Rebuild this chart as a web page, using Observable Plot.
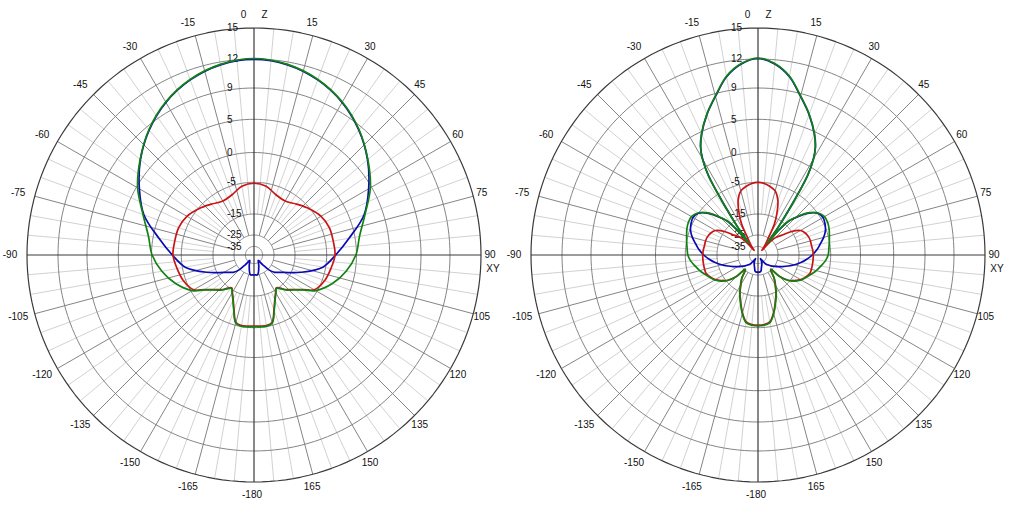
<!DOCTYPE html>
<html><head><meta charset="utf-8">
<script src="https://cdn.jsdelivr.net/npm/d3@7"></script>
<script src="https://cdn.jsdelivr.net/npm/@observablehq/plot@0.6"></script>
<style>
html,body{margin:0;padding:0;background:#fff}
body{width:1024px;height:509px;overflow:hidden;position:relative;font-family:"Liberation Sans",Arial,sans-serif}
#left{position:absolute;left:0;top:0}
#right{position:absolute;left:504px;top:0}
</style></head><body>
<div id="left"></div><div id="right"></div>
<script>
// ---- radial dB rings (non-linear antenna scale) ----
const ringDb = [15, 12, 9, 5, 0, -5, -15, -25, -35];
const ringLabels = ["15", "12", "9", "5", "0", "-5", "-15", "-25", "-35"];
const ringFrac = [1, 0.8634, 0.7357, 0.5978, 0.4515, 0.3203, 0.1806, 0.0881, 0.0379];

// ---- angle tick labels (degrees from Z, clockwise toward XY) ----
const angleLabels = [15, 30, 45, 60, 75, 90, 105, 120, 135, 150, 165,
  -15, -30, -45, -60, -75, -90, -105, -120, -135, -150, -165];

// ---- left pattern (half, symmetric), dB ----
const leftAngles = [0, 10, 20, 30, 40, 50, 60, 70, 80, 90, 100, 110, 120, 125, 130, 135, 138, 142, 146, 150, 155, 160, 165, 170, 175, 180];
const leftBlue  = [11.95, 11.7, 11.0, 9.95, 8.5, 6.6, 4.5, 2.2, -1.0, -3.5, -5.9, -12.0, -17.9, -20.1, -21.7, -24.5, -31, -37, -36, -34.7, -32.7, -30.4, -27.3, -24.9, -25, -25];
const leftRed   = [-5.3, -5.9, -7.7, -8.3, -7.0, -5.2, -4.2, -3.75, -3.7, -3.6, -4.1, -4.6, -6.0, -8.9, -11.0, -12.5, -13.3, -14.7, -15.6, -14.3, -12.4, -9.5, -5.9, -5.3, -5.4, -5.5];
const leftGreen = [12.05, 11.75, 11.05, 10.0, 8.55, 6.65, 4.8, 2.35, 0.7, -0.1, -1.5, -3.2, -5.45, -8.7, -10.8, -12.3, -13.1, -14.5, -15.4, -14.1, -12.2, -9.3, -5.7, -5.1, -5.2, -5.3];

// ---- right pattern (half, symmetric), dB ----
const rightAngles = [0, 5, 10, 15, 20, 25, 28, 30, 32, 34, 36, 38, 40, 42, 45, 50, 55, 60, 65, 70, 75, 80, 85, 90, 95, 100, 105, 110, 115, 120, 125, 130, 135, 138, 140, 145, 150, 155, 160, 165, 170, 175, 180];
const rightBlue  = [12.05, 11.55, 10.45, 8.65, 6.75, 4.65, 2.95, 1.25, -1.55, -9.1, -18.1, -30.5, -19, -13.7, -11.4, -7.5, -5.0, -4.6, -4.8, -5.3, -6.5, -8.0, -9.3, -10.8, -12.5, -14.2, -16.5, -19.2, -21.5, -23.4, -25.3, -27.8, -30.3, -31.5, -32.5, -40, -37, -34.5, -33, -31, -28, -27.5, -27.5];
const rightRed   = [-5.0, -5.3, -6.0, -7.0, -9.6, -14, -18, -23, -27, -30, -33, -36, -38, -30, -23, -20, -15, -12.5, -11.5, -11.0, -10.8, -10.8, -10.6, -10.5, -10.5, -10.5, -10.5, -10.6, -11.4, -12.4, -13.9, -15.8, -20.3, -25.8, -25.3, -21.3, -18.2, -14.5, -12.0, -9.0, -6.5, -5.9, -5.8];
const rightGreen = [12.1, 11.6, 10.5, 8.7, 6.8, 4.7, 3.0, 1.3, -1.5, -9.0, -18.0, -30, -18.5, -13.5, -11.2, -7.3, -4.9, -4.3, -4.3, -4.5, -4.8, -5.1, -5.5, -5.8, -6.6, -7.8, -8.9, -10.1, -11.2, -12.2, -13.6, -15.6, -20, -25.5, -25, -21, -17.8, -14.3, -11.8, -8.8, -6.3, -5.7, -5.6];

const seriesColors = {blue: "#0a0ab4", red: "#c81414", green: "#118211"};

// ---- geometry helpers ----
const R = 227;
const W = 507, H = 509;
const rad = d3.scaleLinear()
  .domain([...ringDb, -45])
  .range([...ringFrac, 0].map(f => f * R))
  .clamp(true);
const toRad = a => a * Math.PI / 180;
const px = (a, r) => r * Math.sin(toRad(a));
const py = (a, r) => r * Math.cos(toRad(a));

function fullPattern(angles, values) {
  const neg = angles.map((a, i) => ({a: -a, db: values[i]})).reverse();
  const pos = angles.slice(1).map((a, i) => ({a, db: values[i + 1]}));
  return [...neg, ...pos];
}

function chart(angles, blue, red, green) {
  const circ = d3.range(0, 361, 2);
  const rings = ringDb.flatMap(db => circ.map(a => ({db, a})));
  const spokes = d3.range(0, 360, 5).map(a => ({
    a, kind: a % 90 === 0 ? "axis" : a % 15 === 0 ? "major" : "minor"
  }));
  const spokeStart = d => d.kind === "axis" ? 0 : d.kind === "major" ? rad(-25) : rad(-15);
  const lineOpts = (data, color) => Plot.line(data, {
    x: d => px(d.a, rad(d.db)), y: d => py(d.a, rad(d.db)),
    stroke: color, strokeWidth: 1.7, strokeLinejoin: "round", curve: "catmull-rom"
  });
  const font = {fontSize: 10, fontFamily: "Liberation Sans, Arial, sans-serif", fill: "#111"};
  return Plot.plot({
    width: W, height: H, margin: 0,
    x: {domain: [-W / 2, W / 2], axis: null},
    y: {domain: [-H / 2, H / 2], axis: null},
    style: {background: "#fff", overflow: "visible"},
    marks: [
      Plot.link(spokes.filter(d => d.kind === "minor"), {
        x1: d => px(d.a, spokeStart(d)), y1: d => py(d.a, spokeStart(d)),
        x2: d => px(d.a, R), y2: d => py(d.a, R), stroke: "#d2d2d2", strokeWidth: 1
      }),
      Plot.link(spokes.filter(d => d.kind === "major"), {
        x1: d => px(d.a, spokeStart(d)), y1: d => py(d.a, spokeStart(d)),
        x2: d => px(d.a, R), y2: d => py(d.a, R), stroke: "#858585", strokeWidth: 1
      }),
      Plot.line(rings.filter(d => d.db !== 15), {
        x: d => px(d.a, rad(d.db)), y: d => py(d.a, rad(d.db)), z: "db",
        stroke: "#858585", strokeWidth: 1
      }),
      Plot.line(rings.filter(d => d.db === 15), {
        x: d => px(d.a, rad(d.db)), y: d => py(d.a, rad(d.db)),
        stroke: "#3a3a3a", strokeWidth: 1.2
      }),
      Plot.link(spokes.filter(d => d.kind === "axis"), {
        x1: d => px(d.a, 0), y1: d => py(d.a, 0),
        x2: d => px(d.a, R), y2: d => py(d.a, R), stroke: "#3a3a3a", strokeWidth: 1.2
      }),
      Plot.text(ringDb, {
        x: 0, y: d => rad(d), text: (d, i) => ringLabels[i],
        dx: -27, textAnchor: "start", ...font
      }),
      Plot.text(angleLabels, {
        x: a => px(a, 240), y: a => py(a, 240), text: a => String(a), dx: -4, ...font
      }),
      Plot.text(["0"], {x: px(0, 240), y: py(0, 240), text: d => d, dx: -10.5, ...font}),
      Plot.text(["Z"], {x: px(0, 240), y: py(0, 240), text: d => d, dx: 10.5, ...font}),
      Plot.text(["-180"], {x: px(180, 240), y: py(180, 240), text: d => d, dx: -2, ...font}),
      Plot.text(["XY"], {x: px(90, 240), y: py(90, 240), text: d => d, dx: -1, dy: 14, ...font}),
      lineOpts(fullPattern(angles, blue), seriesColors.blue),
      lineOpts(fullPattern(angles, red), seriesColors.red),
      lineOpts(fullPattern(angles, green), seriesColors.green)
    ]
  });
}

document.getElementById("left").append(chart(leftAngles, leftBlue, leftRed, leftGreen));
document.getElementById("right").append(chart(rightAngles, rightBlue, rightRed, rightGreen));
</script>
</body></html>
